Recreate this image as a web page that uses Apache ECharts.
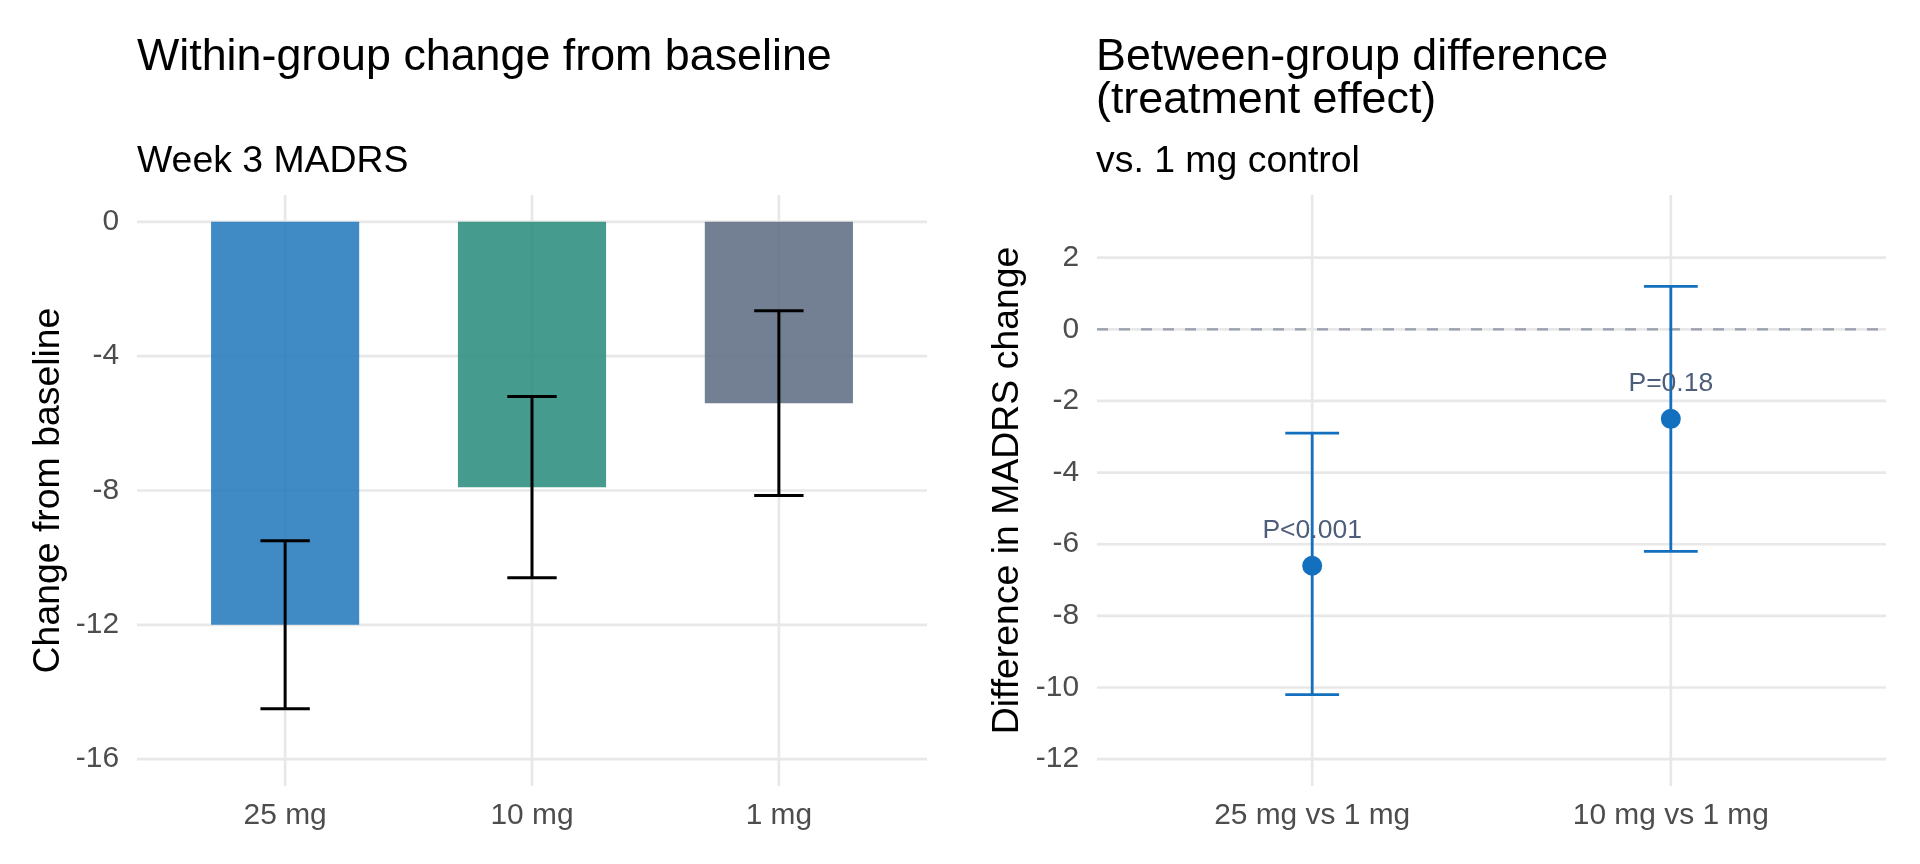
<!DOCTYPE html>
<html>
<head>
<meta charset="utf-8">
<script src="https://cdn.jsdelivr.net/npm/echarts@6/dist/echarts.min.js"></script>
<style>
html,body{margin:0;padding:0;background:#ffffff;}
#chart{width:1920px;height:864px;}
</style>
</head>
<body>
<div id="chart"></div>
<script>
// ---------------- data ----------------
const groups = ['25 mg', '10 mg', '1 mg'];
const changeMean = [-12.0, -7.9, -5.4];
const changeLow = [-14.5, -10.6, -8.15];
const changeHigh = [-9.5, -5.2, -2.65];
const leftTicks = [0, -4, -8, -12, -16];

const comparisons = ['25 mg vs 1 mg', '10 mg vs 1 mg'];
const diffEst = [-6.6, -2.5];
const diffLow = [-10.2, -6.2];
const diffHigh = [-2.9, 1.2];
const pLabels = ['P<0.001', 'P=0.18'];
const rightTicks = [2, 0, -2, -4, -6, -8, -10, -12];

// ---------------- styles ----------------
const FONT = "'Liberation Sans', Arial, Helvetica, sans-serif";
const barColors = ['#1E75BC', '#248A7A', '#5B6A80'];
const GRID_COLOR = '#E8E8E8';
const GRID_W = 2.7;
const AXIS_TEXT = '#4D4D4D';
const BLUE = '#1270BE';

const isNear = (v, step) => Math.abs(v / step - Math.round(v / step)) < 1e-6;

function hGrid(xIdx, yIdx, vals, xRef) {
  return {
    type: 'custom', xAxisIndex: xIdx, yAxisIndex: yIdx, z: 0, silent: true,
    data: vals.map(v => [xRef, v]), encode: { x: 0, y: 1 },
    renderItem: function (params, api) {
      const cs = params.coordSys;
      const y = api.coord([api.value(0), api.value(1)])[1];
      return { type: 'line', shape: { x1: cs.x, y1: y, x2: cs.x + cs.width, y2: y },
        style: { stroke: GRID_COLOR, lineWidth: GRID_W } };
    }
  };
}
function vGrid(xIdx, yIdx, n, yRef) {
  const d = [];
  for (let i = 0; i < n; i++) d.push([i + 1, yRef]);
  return {
    type: 'custom', xAxisIndex: xIdx, yAxisIndex: yIdx, z: 0, silent: true,
    data: d, encode: { x: 0, y: 1 },
    renderItem: function (params, api) {
      const cs = params.coordSys;
      const x = api.coord([api.value(0), api.value(1)])[0];
      return { type: 'line', shape: { x1: x, y1: cs.y, x2: x, y2: cs.y + cs.height },
        style: { stroke: GRID_COLOR, lineWidth: GRID_W } };
    }
  };
}
function errBars(xIdx, yIdx, lows, highs, capHalf, color, width, z) {
  return {
    type: 'custom', xAxisIndex: xIdx, yAxisIndex: yIdx, z: z, silent: true,
    data: lows.map((lo, i) => [i + 1, lo, highs[i]]), encode: { x: 0, y: [1, 2] },
    renderItem: function (params, api) {
      const x = api.value(0), lo = api.value(1), hi = api.value(2);
      const pLo = api.coord([x, lo]), pHi = api.coord([x, hi]);
      const cL = api.coord([x - capHalf, lo])[0], cR = api.coord([x + capHalf, lo])[0];
      const st = { stroke: color, lineWidth: width, fill: null };
      return { type: 'group', children: [
        { type: 'line', shape: { x1: pLo[0], y1: pLo[1], x2: pHi[0], y2: pHi[1] }, style: st },
        { type: 'line', shape: { x1: cL, y1: pLo[1], x2: cR, y2: pLo[1] }, style: st },
        { type: 'line', shape: { x1: cL, y1: pHi[1], x2: cR, y2: pHi[1] }, style: st }
      ] };
    }
  };
}

const chart = echarts.init(document.getElementById('chart'), null, { renderer: 'canvas' });

const axisNameStyle = { fontFamily: FONT, fontSize: 37.4, color: '#000000' };
const axisLabelStyle = { fontFamily: FONT, fontSize: 29.9, color: AXIS_TEXT };

const option = {
  animation: false,
  backgroundColor: '#ffffff',
  title: [
    { text: 'Within-group change from baseline', left: 137, top: 35.3, padding: 0,
      textStyle: { fontFamily: FONT, fontSize: 44.8, lineHeight: 44.8, fontWeight: 'normal', color: '#000' } },
    { text: 'Week 3 MADRS', left: 137, top: 143, padding: 0,
      textStyle: { fontFamily: FONT, fontSize: 37.4, lineHeight: 37.4, fontWeight: 'normal', color: '#000' } },
    { text: 'Between-group difference\n(treatment effect)', left: 1096, top: 36.2, padding: 0,
      textStyle: { fontFamily: FONT, fontSize: 44.8, lineHeight: 43, fontWeight: 'normal', color: '#000' } },
    { text: 'vs. 1 mg control', left: 1096, top: 143, padding: 0,
      textStyle: { fontFamily: FONT, fontSize: 37.4, lineHeight: 37.4, fontWeight: 'normal', color: '#000' } }
  ],
  grid: [
    { left: 137, top: 195, width: 790, height: 591, containLabel: false },
    { left: 1097, top: 195, width: 789, height: 591, containLabel: false }
  ],
  xAxis: [
    { gridIndex: 0, type: 'value', min: 0.4, max: 3.6, interval: 0.2,
      axisLine: { show: false }, axisTick: { show: false }, splitLine: { show: false },
      axisLabel: { ...axisLabelStyle, margin: 15,
        formatter: v => (isNear(v, 1) && v >= 1 && v <= groups.length) ? groups[Math.round(v) - 1] : '' } },
    { gridIndex: 1, type: 'value', min: 0.4, max: 2.6, interval: 0.2,
      axisLine: { show: false }, axisTick: { show: false }, splitLine: { show: false },
      axisLabel: { ...axisLabelStyle, margin: 15,
        formatter: v => (isNear(v, 1) && v >= 1 && v <= comparisons.length) ? comparisons[Math.round(v) - 1] : '' } }
  ],
  yAxis: [
    { gridIndex: 0, type: 'value', min: -16.8, max: 0.8, interval: 0.8,
      name: 'Change from baseline', nameLocation: 'middle', nameRotate: 90, nameGap: 70,
      nameTextStyle: axisNameStyle,
      axisLine: { show: false }, axisTick: { show: false }, splitLine: { show: false },
      axisLabel: { ...axisLabelStyle, margin: 18,
        formatter: v => (isNear(v, 4) && leftTicks.indexOf(Math.round(v)) >= 0) ? String(Math.round(v)) : '' } },
    { gridIndex: 1, type: 'value', min: -12.75, max: 3.75, interval: 0.25,
      name: 'Difference in MADRS change', nameLocation: 'middle', nameRotate: 90, nameGap: 71,
      nameTextStyle: axisNameStyle,
      axisLine: { show: false }, axisTick: { show: false }, splitLine: { show: false },
      axisLabel: { ...axisLabelStyle, margin: 18,
        formatter: v => (isNear(v, 2) && rightTicks.indexOf(Math.round(v)) >= 0) ? String(Math.round(v)) : '' } }
  ],
  series: [
    hGrid(0, 0, leftTicks, 2),
    vGrid(0, 0, groups.length, -8),
    hGrid(1, 1, rightTicks, 1.5),
    vGrid(1, 1, comparisons.length, 0),
    {
      type: 'custom', xAxisIndex: 0, yAxisIndex: 0, z: 2, silent: true,
      data: changeMean.map((m, i) => [i + 1, m]), encode: { x: 0, y: 1 },
      renderItem: function (params, api) {
        const x = api.value(0), y = api.value(1);
        const p0 = api.coord([x - 0.3, 0]);
        const p1 = api.coord([x + 0.3, y]);
        return { type: 'rect',
          shape: { x: p0[0], y: Math.min(p0[1], p1[1]), width: p1[0] - p0[0], height: Math.abs(p1[1] - p0[1]) },
          style: { fill: barColors[params.dataIndex], opacity: 0.85 } };
      }
    },
    errBars(0, 0, changeLow, changeHigh, 0.1, '#000000', 3, 3),
    {
      type: 'custom', xAxisIndex: 1, yAxisIndex: 1, z: 1, silent: true,
      data: [[1.5, 0]], encode: { x: 0, y: 1 },
      renderItem: function (params, api) {
        const cs = params.coordSys;
        const y = api.coord([api.value(0), api.value(1)])[1];
        return { type: 'line', shape: { x1: cs.x, y1: y, x2: cs.x + cs.width, y2: y },
          style: { stroke: '#9CA3AF', lineWidth: 2.4, lineDash: [11, 11] } };
      }
    },
    errBars(1, 1, diffLow, diffHigh, 0.075, BLUE, 2.8, 3),
    {
      type: 'scatter', xAxisIndex: 1, yAxisIndex: 1, z: 4, silent: true,
      symbol: 'circle', symbolSize: 20,
      itemStyle: { color: BLUE, opacity: 1 },
      data: diffEst.map((e, i) => [i + 1, e]),
      label: { show: true, position: 'top', distance: 12,
        formatter: p => pLabels[p.dataIndex],
        fontFamily: FONT, fontSize: 26.5, color: '#4E5E7A', opacity: 1 }
    }
  ]
};
chart.setOption(option);
</script>
</body>
</html>
